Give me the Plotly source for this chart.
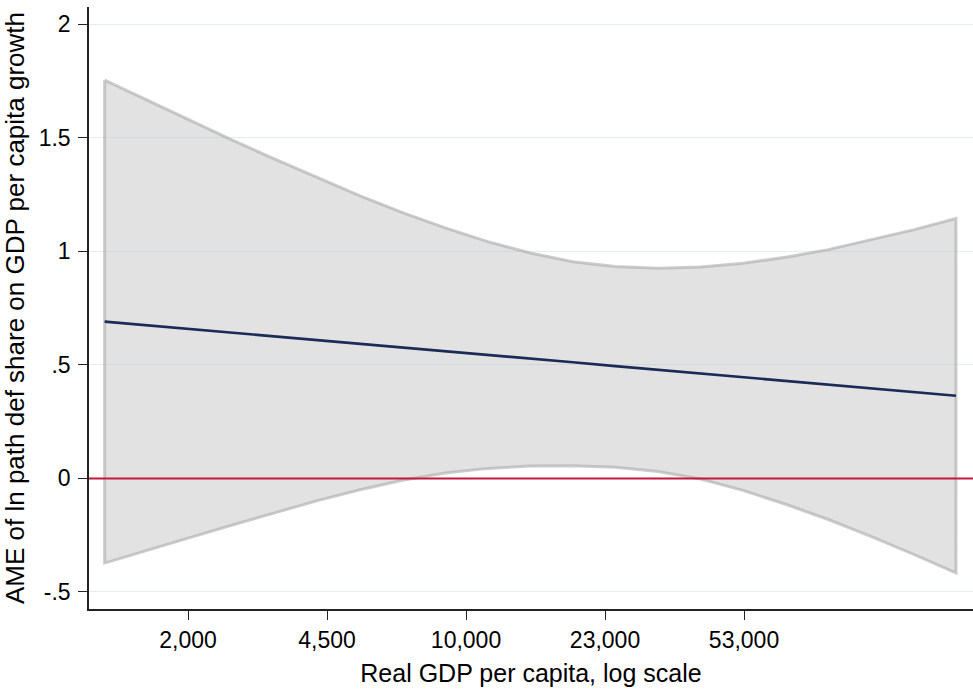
import plotly.graph_objects as go

# Average marginal effect of ln path-def share over log real GDP per capita
ln_gdp = [7.120, 7.365, 7.610, 7.855, 8.100, 8.345, 8.590, 8.835, 9.080, 9.325, 9.570,
          9.815, 10.060, 10.305, 10.550, 10.795, 11.040, 11.285, 11.530, 11.775, 12.020]
ame = [0.690, 0.674, 0.657, 0.641, 0.625, 0.609, 0.592, 0.576, 0.560, 0.543, 0.527,
       0.511, 0.494, 0.478, 0.462, 0.446, 0.429, 0.413, 0.397, 0.380, 0.364]
ci_upper = [1.753, 1.664, 1.575, 1.489, 1.405, 1.323, 1.244, 1.170, 1.103, 1.042, 0.992,
            0.954, 0.933, 0.925, 0.930, 0.947, 0.973, 1.007, 1.049, 1.094, 1.144]
ci_lower = [-0.373, -0.316, -0.261, -0.205, -0.150, -0.098, -0.050, -0.008, 0.024, 0.044, 0.054,
            0.056, 0.049, 0.030, -0.003, -0.053, -0.114, -0.181, -0.255, -0.334, -0.416]

xtick_vals = [7.6, 8.4, 9.2, 10.0, 10.8]
xtick_text = ["2,000", "4,500", "10,000", "23,000", "53,000"]
ytick_vals = [-0.5, 0, 0.5, 1, 1.5, 2]
ytick_text = ["-.5", "0", ".5", "1", "1.5", "2"]

x_range = [7.030, 12.118]
y_range = [-0.575, 2.075]

FONT = "Liberation Sans, Arial, sans-serif"

fig = go.Figure()

# Confidence band as a closed polygon
band_x = ln_gdp + ln_gdp[::-1] + [ln_gdp[0]]
band_y = ci_upper + ci_lower[::-1] + [ci_upper[0]]
fig.add_trace(go.Scatter(
    x=band_x, y=band_y, mode="lines", fill="toself",
    fillcolor="rgba(190,190,190,0.45)",
    line=dict(color="rgba(170,170,170,0.6)", width=3),
    hoverinfo="skip", showlegend=False,
))

# Reference line at zero
fig.add_trace(go.Scatter(
    x=x_range, y=[0, 0], mode="lines",
    line=dict(color="#c4163f", width=2),
    hoverinfo="skip", showlegend=False,
))

# Point estimate
fig.add_trace(go.Scatter(
    x=ln_gdp, y=ame, mode="lines",
    line=dict(color="#1b2a57", width=2.6),
    showlegend=False,
))

fig.update_layout(
    width=973, height=690,
    margin=dict(l=89, r=0, t=7, b=81, autoexpand=False),
    paper_bgcolor="white", plot_bgcolor="white",
    font=dict(family=FONT, size=23, color="#000000"),
)

fig.update_xaxes(
    range=x_range, tickmode="array", tickvals=xtick_vals, ticktext=xtick_text,
    showgrid=False, zeroline=False,
    showline=True, linecolor="#222222", linewidth=1.5,
    ticks="outside", ticklen=9, tickwidth=1.2, tickcolor="#222222",
    tickfont=dict(size=23), ticklabelstandoff=1,
    title=dict(text="Real GDP per capita, log scale", font=dict(size=25), standoff=12),
)
fig.update_yaxes(
    range=y_range, tickmode="array", tickvals=ytick_vals, ticktext=ytick_text,
    showgrid=True, gridcolor="#e4ecef", gridwidth=1.2, zeroline=False,
    showline=True, linecolor="#222222", linewidth=1.5,
    ticks="outside", ticklen=9, tickwidth=1.2, tickcolor="#222222",
    tickfont=dict(size=23), ticklabelstandoff=3,
    title=dict(text="AME of ln path def share on GDP per capita growth",
               font=dict(size=26), standoff=14),
)

fig.write_html("out.html")
